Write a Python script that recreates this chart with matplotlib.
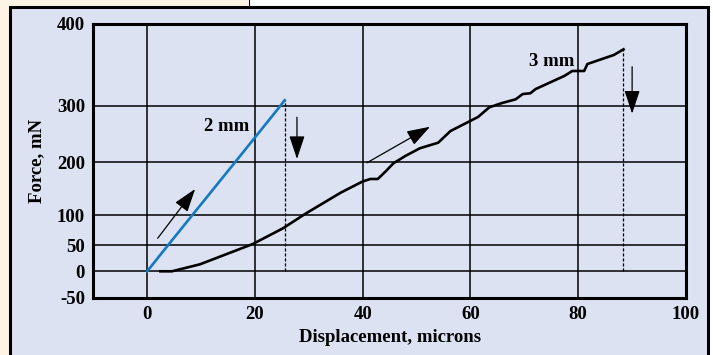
import matplotlib.pyplot as plt
import numpy as np
from matplotlib.patches import Rectangle
from matplotlib.lines import Line2D

# y axis in the original is not linear: gridline values and where they sit
y_nodes = [-50, 0, 50, 100, 200, 300, 400]
y_pos = [0, 26.4, 52.7, 82.4, 135.4, 191.7, 273.7]

x_ticks = [0, 20, 40, 60, 80, 100]
y_ticks = [-50, 0, 50, 100, 200, 300, 400]
x_grid = [0, 20, 40, 60, 80]
y_grid = [0, 50, 100, 200, 300]

# 2 mm loading line
disp_2mm = [0, 3.9, 8.35, 16.3, 24.7, 25.5]
force_2mm = [0, 50, 100, 200, 300, 307]

# 3 mm loading curve
disp_3mm = [2.45, 4.6, 9.8, 15.9, 19.6, 25.2, 29.5, 35.9, 39.9, 41.4, 42.8,
            44.2, 45.7, 47.9, 50.6, 54.0, 56.3, 61.4, 63.5, 65.7, 68.4, 69.7,
            71.1, 72.1, 77.4, 78.9, 81.1, 81.7, 86.6, 88.4]
force_3mm = [0, 0, 13.3, 37.3, 51.7, 78.1, 103.8, 142.6, 163.4, 168.5, 168.5,
             182.3, 198.1, 211.2, 224.9, 234.8, 255.6, 280.5, 297.7, 303.3,
             308.2, 314.6, 315.5, 320.7, 336.6, 342.7, 342.7, 351.2, 362.2,
             369.1]


def fwd(v):
    return np.interp(v, y_nodes, y_pos)


def inv(p):
    return np.interp(p, y_pos, y_nodes)


plt.rcParams['font.family'] = 'Liberation Serif'
plt.rcParams['font.weight'] = 'bold'
fs = 13.5

fig = plt.figure(figsize=(7.13, 3.55), dpi=100, facecolor='white')
W, H = 713, 355
fig.patches.append(Rectangle((0, 0), 249 / W, 1, transform=fig.transFigure,
                             facecolor='#fdf4e5', edgecolor='none',
                             zorder=-3))
fig.lines.append(Line2D([249 / W, 249 / W], [0.9, 1], transform=fig.transFigure,
                        color='black', lw=1.5, zorder=-3))
fig.patches.append(Rectangle((10 / W, -0.1), 698 / W, 1.1 - 7 / H,
                             transform=fig.transFigure, facecolor='#dce2f2',
                             edgecolor='black', lw=2.2, zorder=-2))

ax = fig.add_axes([93.3 / W, 1 - 297.7 / H, (686 - 93.3) / W, (297.7 - 24) / H])
ax.set_facecolor('#dce2f2')
ax.set_yscale('function', functions=(fwd, inv))
ax.set_xlim(-10, 100)
ax.set_ylim(-50, 400)

for gx in x_grid:
    ax.axvline(gx, color='black', lw=1.1, zorder=1)
for gy in y_grid:
    ax.axhline(gy, color='black', lw=1.1, zorder=1)

ax.set_xticks(x_ticks)
ax.set_yticks(y_ticks)
ax.set_xticklabels([str(t) for t in x_ticks])
ax.set_yticklabels([str(t) for t in y_ticks])
ax.tick_params(length=0, labelsize=fs, pad=6)
for s in ax.spines.values():
    s.set_linewidth(2.2)

ax.plot(disp_2mm, force_2mm, color='#1479c0', lw=1.9, zorder=3)
ax.plot(disp_3mm, force_3mm, color='black', lw=1.9, zorder=3)

ax.plot([disp_2mm[-1]] * 2, [0, force_2mm[-1]], color='black', lw=0.9,
        ls=(0, (2.5, 1.5)), zorder=2)
ax.plot([disp_3mm[-1]] * 2, [0, force_3mm[-1]], color='black', lw=0.9,
        ls=(0, (2.5, 1.5)), zorder=2)

arrow = dict(arrowstyle='-|>,head_length=0.9,head_width=0.3', color='black',
             lw=0.9, shrinkA=0, shrinkB=0, mutation_scale=16)
ax.annotate('', xy=(8.9, 149.6), xytext=(1.95, 61.3), arrowprops=arrow)
ax.annotate('', xy=(52.5, 263.2), xytext=(40.8, 199.2), arrowprops=arrow)
ax.annotate('', xy=(27.8, 205.9), xytext=(27.8, 280), arrowprops=arrow)
ax.annotate('', xy=(90.0, 286.5), xytext=(90.0, 347.9), arrowprops=arrow)

ax.text(14.8, 262.7, '2 mm', ha='center', va='center', fontsize=fs,
        fontweight='bold')
ax.text(75.0, 354, '3 mm', ha='center', va='center', fontsize=fs,
        fontweight='bold')

ax.set_xlabel('Displacement, microns', fontsize=fs, fontweight='bold',
              labelpad=4)
ax.set_ylabel('Force, mN', fontsize=fs, fontweight='bold', labelpad=8)

fig.savefig('out.png', dpi=100)
